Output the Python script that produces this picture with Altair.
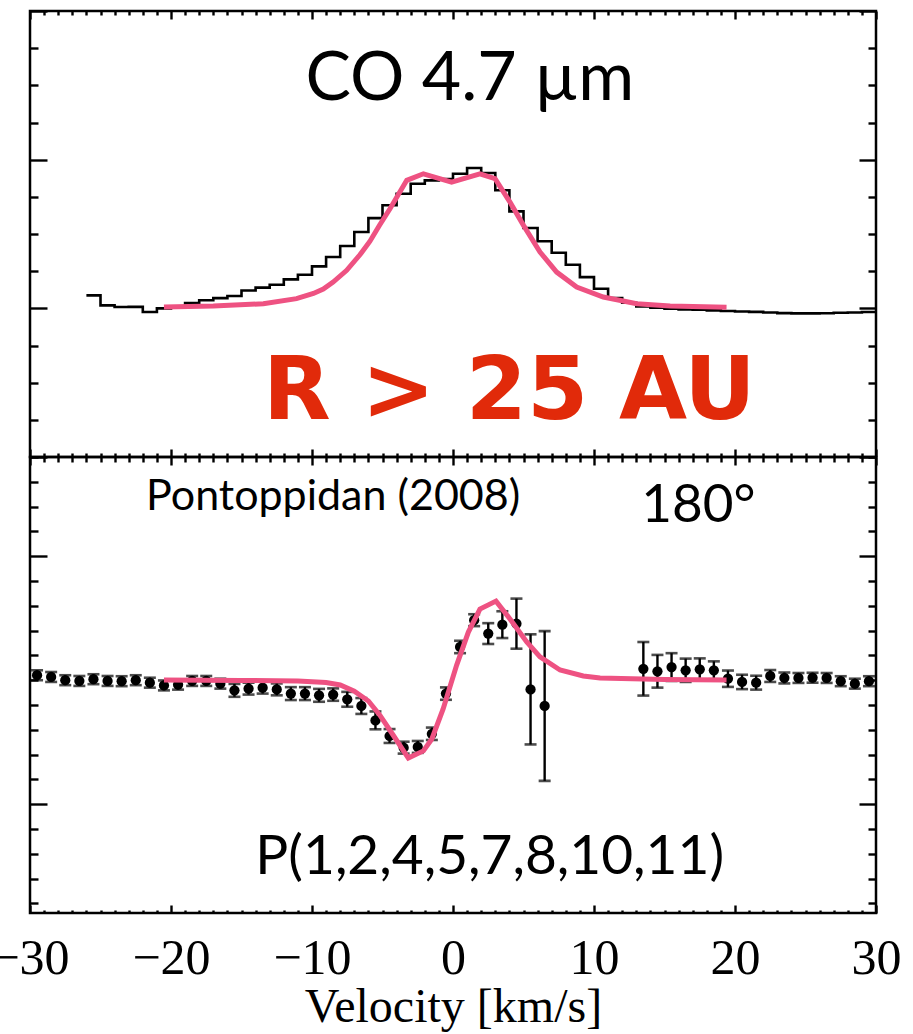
import altair as alt
import pandas as pd

PINK = "#ee5282"
RED = "#e12a0a"
W = 846          # plot width (px)
H_TOP = 446      # upper panel height
H_BOT = 456      # lower panel height

# ---------------- upper panel: CO 4.7 um line profile ----------------
# observed spectrum, 1 km/s bins given by their left edges
co_edge = list(range(-26, 30))
co_flux = [1.087, 1.020, 1.009, 1.010, 0.975, 1.000, 1.005, 1.035, 1.054, 1.069,
           1.083, 1.120, 1.139, 1.159, 1.195, 1.226, 1.282, 1.345, 1.419, 1.513,
           1.607, 1.693, 1.771, 1.838, 1.861, 1.870, 1.905, 1.944, 1.910, 1.794,
           1.652, 1.540, 1.451, 1.374, 1.293, 1.210, 1.132, 1.069, 1.038, 1.013,
           1.004, 0.997, 0.993, 0.990, 0.986, 0.982, 0.979, 0.976, 0.972, 0.968,
           0.966, 0.966, 0.967, 0.970, 0.972, 0.975]

# disk model profile
co_model_v = [-20.5, -17.0, -13.45, -11.1, -9.9, -9.2, -8.5, -7.54, -6.6, -5.9,
              -5.2, -4.47, -3.28, -2.1, -0.1, 1.91, 2.98, 4.04, 5.0, 6.17,
              7.35, 8.77, 10.66, 13.03, 15.4, 19.4]
co_model_flux = [1.009, 1.015, 1.031, 1.065, 1.100, 1.130, 1.177, 1.256, 1.360, 1.450,
                 1.560, 1.670, 1.861, 1.905, 1.849, 1.905, 1.872, 1.715, 1.558, 1.379,
                 1.244, 1.143, 1.076, 1.031, 1.015, 1.008]

# ---------------- lower panel: spectro-astrometric signal, PA 180 deg ----------------
sa_v = [-29.5, -28.5, -27.5, -26.5, -25.5, -24.5, -23.5, -22.5, -21.5, -20.5,
        -19.5, -18.5, -17.5, -16.5, -15.5, -14.5, -13.5, -12.5, -11.5, -10.5,
        -9.5, -8.5, -7.5, -6.5, -5.5, -4.5, -3.5, -2.5, -1.5, -0.5,
        0.5, 1.5, 2.5, 3.5, 4.5, 5.5, 6.5,
        13.5, 14.5, 15.5, 16.5, 17.5, 18.5, 19.5, 20.5, 21.5, 22.5,
        23.5, 24.5, 25.5, 26.5, 27.5, 28.5, 29.5]
sa_off = [0.020, 0.013, 0.000, -0.003, 0.004, -0.003, -0.004, 0.000, -0.010, -0.021,
          -0.018, -0.003, -0.003, -0.014, -0.041, -0.034, -0.030, -0.037, -0.054, -0.054,
          -0.061, -0.058, -0.077, -0.104, -0.162, -0.225, -0.272, -0.269, -0.216, -0.054,
          0.134, 0.242, 0.188, 0.224, 0.228, -0.037, -0.104,
          0.046, 0.036, 0.053, 0.040, 0.044, 0.040, 0.006, -0.007, -0.010, 0.017,
          0.009, 0.009, 0.010, 0.009, -0.004, -0.014, -0.004]
sa_err = [0.020, 0.020, 0.020, 0.020, 0.020, 0.020, 0.020, 0.020, 0.020, 0.020,
          0.020, 0.020, 0.020, 0.020, 0.026, 0.024, 0.024, 0.024, 0.026, 0.026,
          0.026, 0.025, 0.030, 0.032, 0.036, 0.028, 0.024, 0.024, 0.025, 0.025,
          0.025, 0.024, 0.042, 0.054, 0.101, 0.222, 0.302,
          0.108, 0.066, 0.056, 0.047, 0.044, 0.036, 0.033, 0.029, 0.028, 0.024,
          0.022, 0.020, 0.020, 0.020, 0.020, 0.020, 0.020]

sa_model_v = [-20.5, -15.0, -11.0, -9.0, -8.0, -7.0, -6.0, -5.2, -4.25, -3.17,
              -2.1, -1.5, -0.7, 0.26, 1.09, 1.91, 3.05, 4.04, 5.23, 6.17,
              7.59, 9.24, 10.43, 15.0, 19.4]
sa_model_off = [0.001, -0.001, -0.003, -0.009, -0.019, -0.044, -0.084, -0.140, -0.221, -0.314,
                -0.285, -0.237, -0.116, 0.061, 0.194, 0.287, 0.319, 0.247, 0.154, 0.094,
                0.041, 0.017, 0.009, 0.003, 0.001]

# axis tick positions
x_ticks = list(range(-30, 31))
x_labels = list(range(-30, 31, 10))
top_y_ticks = [i * 0.25 for i in range(13)]
bot_y_ticks = [round(i * 0.1, 1) for i in range(-9, 10)]

X_MAJOR = "datum.value % 10 === 0"
TOP_MAJOR = "datum.value % 1 === 0"
BOT_MAJOR = "abs(abs(datum.value) - 0.5) < 0.001"

xs = alt.Scale(domain=[-30, 30], nice=False, zero=False)
ys_top = alt.Scale(domain=[0, 3], nice=False, zero=False)
ys_bot = alt.Scale(domain=[-0.9387, 0.9], nice=False, zero=False)


def inward_ticks(orient, offset, values, major_test, major_len, minor_len):
    """Tick-only axis, pushed across the plot with a negative offset so the
    ticks point into the frame from the opposite edge."""
    return alt.Axis(
        orient=orient, offset=offset, values=values,
        labels=False, domain=False, grid=False, title=None,
        ticks=True, tickColor="black", tickWidth=2.4,
        tickSize={"condition": {"test": major_test, "value": major_len},
                  "value": minor_len},
    )


def annotation(text, v, y, yscale, size, color="black", weight="normal", font="Lato"):
    return alt.Chart(pd.DataFrame({"t": [text]})).mark_text(
        font=font, fontSize=size, fontWeight=weight, color=color,
        align="center", baseline="alphabetic",
    ).encode(
        x=alt.XDatum(v, type="quantitative", scale=xs, axis=None),
        y=alt.YDatum(y, type="quantitative", scale=yscale, axis=None),
        text="t:N",
    )


# ---------------- upper panel ----------------
hist_df = pd.DataFrame({"v": co_edge + [30], "flux": co_flux + [co_flux[-1]]})
co_model_df = pd.DataFrame({"v": co_model_v, "flux": co_model_flux})

hist = alt.Chart(hist_df).mark_line(
    interpolate="step-after", color="black", strokeWidth=2.6
).encode(
    x=alt.X("v:Q", scale=xs, axis=inward_ticks("bottom", -H_TOP, x_ticks, X_MAJOR, 8, 4)),
    y=alt.Y("flux:Q", scale=ys_top, axis=inward_ticks("right", -W, top_y_ticks, TOP_MAJOR, 17, 8)),
)

co_model = alt.Chart(co_model_df).mark_line(color=PINK, strokeWidth=5).encode(
    x=alt.X("v:Q", scale=xs, axis=inward_ticks("top", -H_TOP, x_ticks, X_MAJOR, 8, 4)),
    y=alt.Y("flux:Q", scale=ys_top, axis=inward_ticks("left", -W, top_y_ticks, TOP_MAJOR, 17, 8)),
)

top = alt.layer(
    hist,
    co_model,
    annotation("CO 4.7 µm", 1.2, 2.40, ys_top, 68),
    annotation("R > 25 AU", 4.0, 0.256, ys_top, 88, color=RED, weight="bold",
               font="DejaVu Sans"),
).resolve_axis(x="independent", y="independent").properties(width=W, height=H_TOP)

# ---------------- lower panel ----------------
sa_df = pd.DataFrame({"v": sa_v, "off": sa_off, "err": sa_err})
sa_model_df = pd.DataFrame({"v": sa_model_v, "off": sa_model_off})

err_base = alt.Chart(sa_df).transform_calculate(
    lo="datum.off - datum.err", hi="datum.off + datum.err"
)

bars = err_base.mark_rule(color="black", strokeWidth=2.4).encode(
    x=alt.X("v:Q", scale=xs, axis=inward_ticks("top", -H_BOT, x_ticks, X_MAJOR, 8, 3)),
    y=alt.Y("lo:Q", scale=ys_bot, axis=inward_ticks("left", -W, bot_y_ticks, BOT_MAJOR, 17, 8)),
    y2="hi:Q",
)

caps = err_base.transform_fold(["lo", "hi"], as_=["end", "yv"]).mark_tick(
    orient="horizontal", color="black", size=12, thickness=2.6
).encode(
    x=alt.X("v:Q", scale=xs, axis=None),
    y=alt.Y("yv:Q", scale=ys_bot, axis=None),
)

velocity_axis = alt.Axis(
    orient="bottom", values=x_labels, ticks=False, domain=False, grid=False,
    labelFont="Liberation Serif", labelFontSize=50, labelColor="black",
    labelPadding=20, labelFlush=False, labelOverlap=False,
    title="Velocity [km/s]", titleFont="Liberation Serif", titleFontSize=48,
    titleFontWeight="normal", titleColor="black", titlePadding=0,
)

dots = alt.Chart(sa_df).mark_circle(color="black", size=105, opacity=1).encode(
    x=alt.X("v:Q", scale=xs, axis=velocity_axis),
    y=alt.Y("off:Q", scale=ys_bot, axis=None),
)

sa_model = alt.Chart(sa_model_df).mark_line(color=PINK, strokeWidth=5).encode(
    x=alt.X("v:Q", scale=xs, axis=inward_ticks("bottom", -H_BOT, x_ticks, X_MAJOR, 8, 5)),
    y=alt.Y("off:Q", scale=ys_bot, axis=inward_ticks("right", -W, bot_y_ticks, BOT_MAJOR, 17, 8)),
)

bottom = alt.layer(
    bars,
    caps,
    dots,
    sa_model,
    annotation("Pontoppidan (2008)", -8.5, 0.686, ys_bot, 43),
    annotation("180°", 17.4, 0.638, ys_bot, 53),
    annotation("P(1,2,4,5,7,8,10,11)", 2.6, -0.780, ys_bot, 55),
).resolve_axis(x="independent", y="independent").properties(width=W, height=H_BOT)

chart = alt.vconcat(top, bottom, spacing=0, bounds="flush").properties(
    padding={"left": -11, "top": 8, "right": 0, "bottom": 0},
    background="white",
).configure_view(stroke="black", strokeWidth=2.5)

chart.save("out.html", embed_options={"renderer": "svg", "actions": False})
